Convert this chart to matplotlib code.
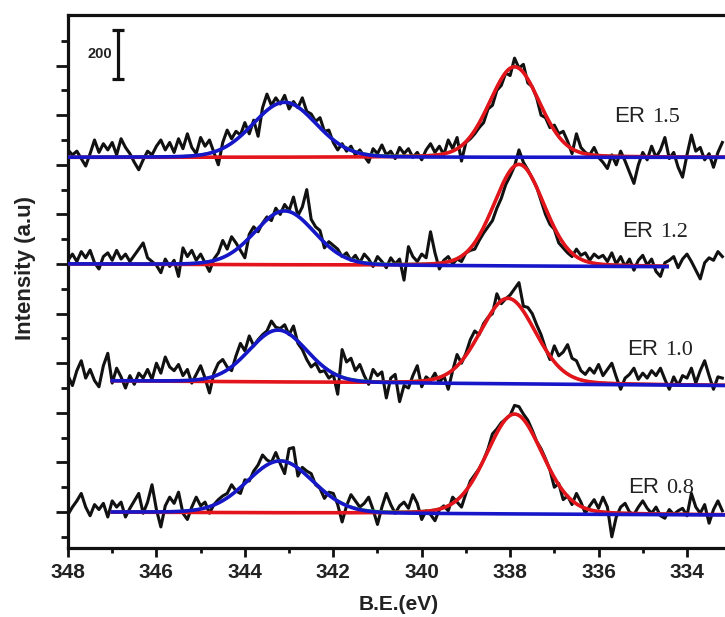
import numpy as np
import matplotlib
matplotlib.use("Agg")
import matplotlib.pyplot as plt
from matplotlib.ticker import FixedLocator, MultipleLocator, NullFormatter

# ---- measured Sn 3d spectra (counts above each trace's stacking offset) ----
# sampled from 348.0 eV downwards in 0.1 eV steps
be_start = 348.0
be_step = 0.1

er15 = [30, 10, 25, -5, -35, 15, 70, 20, 55, 30, 60, 10, 75, 40, 15, -20, -50, -10, 25, 10,
        45, 70, 30, 60, 20, 75, 35, 95, 40, 15, 80, 45, 70, 20, -30, 60, 110, 75, 105, 90,
        140, 95, 150, 85, 200, 255, 210, 240, 215, 250, 195, 225, 200, 240, 185, 175, 145, 160, 105, 110,
        60, 30, 55, 25, 45, 10, 30, 5, -20, 35, 15, 50, 10, 25, -5, 40, 15, 35, 0, 20,
        -10, 30, 55, 20, 45, 10, 70, 35, 80, -15, 60, 75, 95, 120, 140, 195, 210, 270, 290, 340,
        330, 400, 360, 375, 300, 285, 240, 170, 160, 120, 130, 95, 105, 65, 15, 95, 40, 20, 10, 40,
        0, -20, -45, 10, -30, 25, -15, -60, -105, -30, 20, -10, 45, 0, 30, 80, -5, 20, -40, -80,
        10, 90, 25, 40, -10, 15, -40, 20, 60]

er12 = [15, 40, 10, 50, 25, 55, 5, -20, 30, 45, 15, 55, 20, 40, 10, 35, 60, 85, 25, 10,
        -5, -35, 20, -10, 15, -50, 65, 30, 55, 15, 40, 5, -30, 20, 45, 95, 60, 110, 85, 55,
        25, 120, 150, 130, 165, 190, 175, 225, 200, 240, 215, 270, 195, 230, 300, 180, 150, 135, 65, 90,
        75, 60, 30, 45, 15, 35, 5, 40, 20, -10, 30, 10, -15, 25, 0, 20, -65, 70, 30, 10,
        40, 25, 130, 45, -20, 15, 30, 0, 20, 10, 45, 55, 60, 95, 125, 150, 175, 225, 265, 320,
        355, 395, 460, 410, 380, 345, 310, 255, 200, 160, 140, 85, 65, 45, 30, 60, 35, 45, 15, 40,
        25, 35, 10, 45, 0, 30, -10, 20, -25, 15, 35, -5, 20, -30, -50, 5, 15, 30, -15, 20,
        40, 10, -25, -60, 5, 25, 15, 50, 30]

er10 = [20, -20, 40, 80, 10, 45, 0, -25, 60, 110, -10, 50, 15, -30, 20, -15, 30, 10, 45, 5,
        70, 30, 95, 55, 40, 65, 20, 45, -10, 25, 60, 10, -50, 30, 70, 85, 55, 40, 100, 150,
        120, 180, 140, 165, 185, 200, 240, 215, 210, 225, 185, 220, 150, 125, 85, 55, 70, 35, 40, 10,
        25, -55, 125, 75, 90, 40, 65, 20, -15, 45, 20, 35, -70, 10, 25, -85, -20, -30, 20, 60,
        -25, 15, 0, 30, -10, 20, -35, 40, 105, 70, 110, 165, 200, 185, 230, 255, 270, 350, 310, 330,
        345, 370, 395, 300, 295, 270, 225, 185, 130, 85, 140, 100, 115, 145, 90, 80, 40, 25, 50, 30,
        65, 20, 45, 70, 15, -35, 10, 25, 50, 5, 30, 10, 40, 20, 50, 5, -35, 15, -20, 20,
        10, 50, -10, 40, 80, 20, -35, 15, 10]

er08 = [-10, 20, 45, 75, 20, -15, 30, 10, 35, -20, 45, 20, 40, -20, 15, 45, 75, -5, 40, 110,
        10, -60, 25, 60, 35, 80, -5, -30, 20, 60, 25, 40, -5, 30, 50, 65, 75, 110, 85, 75,
        130, 125, 165, 190, 230, 210, 200, 240, 195, 155, 255, 260, 145, 180, 165, 155, 110, 95, 55, 80,
        75, 30, -40, 25, 70, 45, 20, 35, 60, 10, -50, 20, 75, 30, -5, 25, 40, 15, 70, 35,
        -30, 5, -10, -35, 10, 25, 5, 60, 40, 20, 75, 125, 150, 175, 210, 255, 315, 335, 360, 375,
        390, 430, 425, 395, 370, 330, 285, 255, 215, 170, 100, 115, 50, 65, 30, 75, 40, -5, 25, 50,
        15, 60, 20, -100, -20, 20, 35, 0, -10, 20, 45, 15, -5, 20, -15, -25, 10, -10, 5, 15,
        -15, 75, 20, -5, 30, -45, 10, 45, 5]

samples = ["1.5", "1.2", "1.0", "0.8"]
spectra = [er15, er12, er10, er08]
offsets = [1430, 1000, 530, 0]

# ---- peak-fit results (two pseudo-Voigt components on a linear background) ----
bg_left = [0, 0, 0, 0]          # background at 348 eV
bg_right = [0, -12, -20, -12]   # background at 333.1 eV
sn52_center = [343.1, 343.1, 343.25, 343.2]
sn52_height = [222, 218, 210, 210]
sn52_sigma = [0.72, 0.68, 0.66, 0.75]
sn52_lorentz = [0.1, 0.1, 0.1, 0.1]
sn32_center = [337.9, 337.8, 338.05, 337.9]
sn32_height = [365, 410, 345, 403]
sn32_sigma = [0.57, 0.57, 0.63, 0.63]
sn32_lorentz = [0.15, 0.15, 0.15, 0.15]
fit_start = [348.0, 348.0, 347.0, 347.0]
fit_end = [333.1, 334.45, 333.1, 333.1]

# label anchors (eV, counts)
label_x = [335.65, 335.47, 335.35, 335.33]
label_y = [1573, 1109, 633, 77]

xticks_major = [348, 346, 344, 342, 340, 338, 336, 334]

BLACK = "#111111"
RED = "#e3141b"
BLUE = "#1717c9"
GREEN = "#2db83d"


def pseudo_voigt(x, c, h, s, m):
    hwhm = 1.1774 * s
    g = np.exp(-(x - c) ** 2 / (2 * s ** 2))
    lor = 1.0 / (1.0 + ((x - c) / hwhm) ** 2)
    return h * (m * lor + (1 - m) * g)


def background(x, i):
    return offsets[i] + bg_left[i] + (bg_right[i] - bg_left[i]) * (348.0 - x) / 14.9


fig = plt.figure(figsize=(7.25, 6.17), dpi=100)
ax = fig.add_axes([68 / 725, (617 - 548) / 617, (725 - 68) / 725, (548 - 15) / 617])

for i, vals in enumerate(spectra):
    vals = np.asarray(vals, dtype=float)
    be = be_start - be_step * np.arange(len(vals))
    ax.plot(be, vals + offsets[i], color=BLACK, lw=2.2, zorder=2, solid_joinstyle="round")

    xf = np.linspace(fit_start[i], fit_end[i], 500)
    bg = background(xf, i)
    comp52 = bg + pseudo_voigt(xf, sn52_center[i], sn52_height[i], sn52_sigma[i], sn52_lorentz[i])
    comp32 = bg + pseudo_voigt(xf, sn32_center[i], sn32_height[i], sn32_sigma[i], sn32_lorentz[i])
    envelope = comp52 + comp32 - bg
    ax.plot(xf, envelope, color=GREEN, lw=2.0, zorder=3)
    ax.plot(xf, comp32, color=RED, lw=2.6, zorder=4)
    ax.plot(xf, comp52, color=BLUE, lw=2.6, zorder=5)

    ax.annotate("ER", (label_x[i], label_y[i]), ha="left", va="baseline",
                fontsize=16, family="Liberation Sans", color="#222222", zorder=6)
    ax.annotate(samples[i], (label_x[i], label_y[i]), xytext=(27.5, 0),
                textcoords="offset points", ha="left", va="baseline",
                fontsize=16, family="Liberation Serif", color="#222222", zorder=6)

# intensity scale bar
ax.errorbar([346.87], [1845], yerr=[[100], [100]], fmt="none", ecolor=BLACK,
            elinewidth=2.3, capsize=4.5, capthick=2.3, zorder=6)
ax.text(347.0, 1845, "200", ha="right", va="center", fontsize=10.5,
        fontweight="bold", family="Liberation Sans", color="#222222")

ax.set_xlim(348.0, 333.14)
ax.set_ylim(-145, 2004)

ax.xaxis.set_major_locator(FixedLocator(xticks_major))
ax.xaxis.set_minor_locator(MultipleLocator(1))
ax.yaxis.set_major_locator(FixedLocator(np.arange(0, 1801, 200)))
ax.yaxis.set_minor_locator(FixedLocator(np.arange(-100, 1901, 200)))
ax.yaxis.set_major_formatter(NullFormatter())

for sp in ["left", "bottom", "top"]:
    ax.spines[sp].set_linewidth(2.3)
    ax.spines[sp].set_color(BLACK)
ax.spines["right"].set_visible(False)

ax.tick_params(axis="x", which="major", direction="out", length=6.5, width=2.0,
               labelsize=15, pad=4, top=False, color=BLACK)
ax.tick_params(axis="x", which="minor", direction="out", length=3.5, width=2.0, top=False,
               color=BLACK)
ax.tick_params(axis="y", which="major", direction="out", length=8.5, width=2.0, right=False,
               color=BLACK)
ax.tick_params(axis="y", which="minor", direction="out", length=5, width=2.0, right=False,
               color=BLACK)
for lab in ax.get_xticklabels():
    lab.set_fontweight("bold")
    lab.set_family("Liberation Sans")
    lab.set_color("#222222")

fig.text(399 / 725, 1 - 604 / 617, "B.E.(eV)", ha="center", va="center", fontsize=15,
         fontweight="bold", family="Liberation Sans", color="#222222")
fig.text(25 / 725, 1 - 268 / 617, "Intensity (a.u)", ha="center", va="center", rotation=90,
         fontsize=16, fontweight="bold", family="Liberation Sans", color="#222222")

fig.savefig("out.png", dpi=100, facecolor="white")
